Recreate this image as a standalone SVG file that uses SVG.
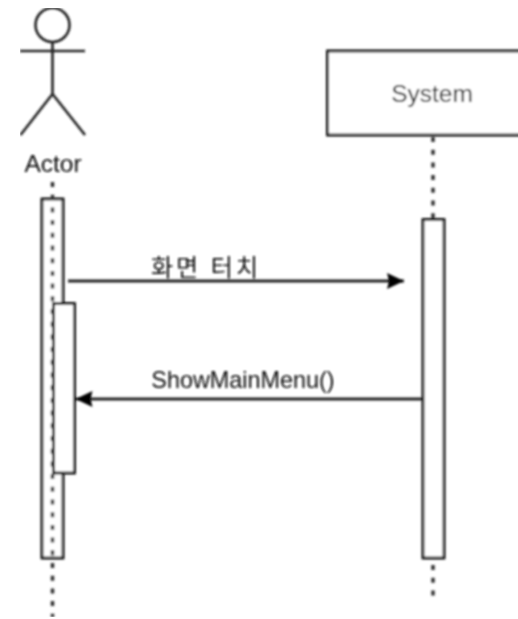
<svg xmlns="http://www.w3.org/2000/svg" width="518" height="619" viewBox="0 0 518 619">
<style>
.s{fill:none;stroke:#222;stroke-width:2.6}
.b{fill:#fff;stroke:#111;stroke-width:2.8}
.d{fill:none;stroke:#333;stroke-width:3.5;stroke-dasharray:5 7.7}
.t{font-family:"Liberation Sans","Noto Sans CJK KR",sans-serif;fill:#111}
.a{fill:none;stroke:#222;stroke-width:3}
</style>
<defs>
<marker id="arrow" markerUnits="userSpaceOnUse" markerWidth="18" markerHeight="18" refX="17" refY="9" orient="auto"><path d="M0 1L17 9L0 17L2 9Z" fill="#000"/></marker>
<filter id="soft" x="0" y="0" width="1" height="1"><feGaussianBlur stdDeviation="0.8"/></filter>
</defs>
<rect width="518" height="619" fill="#fff"/>
<g filter="url(#soft)">
<g id="actor">
<circle class="s" cx="52.5" cy="25" r="17"/>
<path class="s" d="M52.5 42V94M20 51H85M52.5 94L20.5 135M52.5 94L85 135"/>
<text class="t" x="53" y="172" font-size="24.500" text-anchor="middle">Actor</text>
</g>
<g id="system">
<path class="d" d="M433 137V218M433 565V598"/>
<rect class="b" x="327.500" y="51" width="212" height="84"/>
<text class="t" x="432" y="102" font-size="24.500" text-anchor="middle">System</text>
</g>
<g id="actor-activation">
<rect class="b" x="42" y="199" width="21" height="359"/>
<path class="d" d="M52.500 182V617"/>
</g>
<g id="actor-inner-activation">
<rect class="b" x="53.500" y="303.500" width="21" height="169.500"/>
</g>
<g id="system-activation">
<rect class="b" x="423" y="219.500" width="21" height="338.500"/>
</g>
<g id="connectors">
<path class="a" d="M68 281H404" marker-end="url(#arrow)"/>
<path class="a" d="M422 399H75.500" marker-end="url(#arrow)"/>
</g>
<text class="t" x="151" y="276" font-size="24" letter-spacing="3">화면 터치</text>
<text class="t" x="243" y="388" font-size="23.400" text-anchor="middle">ShowMainMenu()</text>
</g>
</svg>
